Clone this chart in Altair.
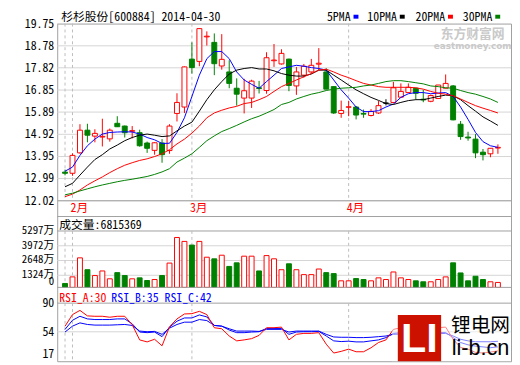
import altair as alt
import pandas as pd

# ------------------------------------------------------------------ data
TITLE = "杉杉股份[600884] 2014-04-30"
VOL_LAST_SHARES = 6815369

jan_days = [30]
feb_days = [7, 10, 11, 12, 13, 14, 17, 18, 19, 20, 21, 24, 25, 26, 27, 28]
mar_days = [3, 4, 5, 6, 7, 10, 11, 12, 13, 14, 17, 18, 19, 20, 21, 24, 25, 26, 27, 28, 31]
apr_days = [1, 2, 3, 4, 8, 9, 10, 11, 14, 15, 16, 17, 18, 21, 22, 23, 24, 25, 28, 29, 30]

opens = [13.27, 13.22, 14.11, 15.10, 14.84, 14.80, 14.72, 15.40, 15.28, 15.05,
         14.99, 14.54, 14.22, 14.54, 14.21, 15.83, 16.11, 18.20, 18.10, 19.17,
         18.93, 17.90, 17.64, 16.93, 16.50, 16.50, 16.95, 16.83, 18.13, 17.99,
         18.20, 17.03, 17.50, 17.64, 17.98, 17.64, 17.00, 15.83, 16.10, 16.11,
         15.83, 15.74, 15.85, 16.28, 16.31, 16.54, 16.74, 16.93, 16.45, 16.36,
         16.48, 16.93, 17.03, 15.36, 14.80, 14.71, 14.14, 14.07, 14.32]
highs = [13.38, 14.09, 15.36, 15.38, 15.14, 15.60, 15.17, 15.71, 15.30, 15.28,
         15.12, 14.60, 14.57, 14.71, 15.36, 16.71, 17.88, 18.93, 19.55, 19.41,
         19.32, 19.29, 18.15, 17.36, 17.34, 17.30, 17.25, 18.50, 18.86, 18.63,
         18.22, 17.86, 17.99, 18.21, 18.68, 17.80, 17.00, 16.39, 16.37, 16.15,
         16.00, 16.02, 16.37, 16.45, 17.21, 17.14, 17.14, 16.95, 16.86, 16.65,
         17.07, 17.53, 17.07, 15.50, 15.03, 14.93, 14.28, 14.31, 14.48]
lows = [13.13, 13.11, 14.07, 14.57, 14.57, 14.39, 14.60, 15.24, 14.78, 14.74,
        14.38, 14.11, 14.03, 13.68, 14.07, 15.48, 15.85, 17.57, 17.89, 18.79,
        17.50, 17.74, 16.93, 16.17, 15.83, 16.07, 16.70, 16.69, 17.86, 17.96,
        16.80, 16.64, 17.39, 17.57, 17.72, 16.88, 15.81, 15.64, 15.71, 15.57,
        15.64, 15.70, 15.81, 16.18, 16.28, 16.54, 16.74, 16.43, 16.32, 16.32,
        16.47, 16.93, 15.53, 14.68, 14.64, 13.88, 13.78, 13.92, 14.07]
closes = [13.22, 14.00, 15.10, 14.88, 14.96, 14.83, 15.10, 15.25, 14.99, 15.08,
          14.42, 14.31, 14.55, 14.03, 15.28, 16.31, 17.86, 17.83, 19.53, 19.20,
          18.00, 18.19, 17.14, 16.67, 16.82, 17.24, 16.92, 18.26, 18.16, 18.45,
          17.05, 17.64, 17.89, 17.93, 18.02, 16.89, 15.85, 15.96, 16.12, 15.76,
          15.80, 15.92, 16.17, 16.28, 16.95, 16.79, 16.97, 16.71, 16.42, 16.61,
          17.07, 17.14, 15.55, 14.82, 14.76, 14.11, 14.03, 14.31, 14.35]

ma5 = [13.31, 13.49, 14.00, 14.42, 14.71, 14.93, 15.00, 15.02, 15.03, 15.02,
       14.93, 14.78, 14.68, 14.52, 14.53, 15.00, 15.64, 16.57, 17.50, 18.22,
       18.53, 18.53, 18.22, 17.64, 17.29, 17.10, 16.93, 17.22, 17.50, 17.79,
       17.86, 17.93, 17.89, 17.83, 17.79, 17.72, 17.29, 16.86, 16.50, 16.11,
       15.91, 15.91, 15.95, 16.11, 16.24, 16.53, 16.69, 16.74, 16.74, 16.69,
       16.72, 16.74, 16.57, 16.11, 15.57, 15.00, 14.60, 14.42, 14.35]
ma10 = [12.63, 12.78, 13.14, 13.49, 13.82, 14.03, 14.28, 14.45, 14.64, 14.78,
        14.88, 14.93, 14.88, 14.82, 14.85, 15.07, 15.28, 15.45, 15.93, 16.43,
        16.86, 17.22, 17.55, 17.72, 17.79, 17.83, 17.77, 17.77, 17.69, 17.57,
        17.50, 17.46, 17.46, 17.55, 17.72, 17.72, 17.50, 17.29, 17.07, 16.86,
        16.69, 16.53, 16.40, 16.26, 16.22, 16.31, 16.39, 16.43, 16.43, 16.50,
        16.57, 16.63, 16.60, 16.43, 16.17, 15.93, 15.68, 15.50, 15.31]
ma20 = [12.20, 12.31, 12.49, 12.71, 12.89, 13.06, 13.25, 13.42, 13.57, 13.68,
        13.78, 13.85, 13.95, 14.07, 14.25, 14.50, 14.71, 14.97, 15.28, 15.64,
        15.85, 15.97, 16.07, 16.14, 16.26, 16.31, 16.43, 16.57, 16.79, 17.00,
        17.14, 17.29, 17.43, 17.57, 17.72, 17.76, 17.64, 17.50, 17.39, 17.26,
        17.14, 17.07, 17.00, 16.97, 16.97, 16.97, 16.97, 16.95, 16.89, 16.79,
        16.71, 16.67, 16.60, 16.46, 16.31, 16.17, 16.06, 15.96, 15.85]
ma30 = [12.28, 12.35, 12.45, 12.54, 12.63, 12.71, 12.78, 12.85, 12.91, 12.96,
        13.02, 13.08, 13.17, 13.28, 13.42, 13.71, 13.88, 14.07, 14.35, 14.64,
        14.85, 15.04, 15.17, 15.31, 15.46, 15.60, 15.71, 15.85, 16.00, 16.22,
        16.31, 16.46, 16.57, 16.67, 16.74, 16.83, 16.89, 16.93, 16.95, 16.97,
        17.03, 17.07, 17.14, 17.22, 17.26, 17.26, 17.22, 17.17, 17.12, 17.03,
        17.00, 16.95, 16.93, 16.83, 16.74, 16.67, 16.57, 16.46, 16.31]

volumes_wan = [591, 1181, 2888, 1824, 1302, 1713, 1007, 1563, 1302, 1007,
               1094, 857, 944, 1302, 2419, 4715, 4362, 4034, 4362, 2946,
               2801, 3125, 2119, 2443, 3038, 3038, 1713, 3091, 2801, 1824,
               2356, 1824, 1384, 1384, 1887, 1563, 1476, 828, 828, 1031,
               944, 828, 1094, 944, 1621, 1094, 944, 828, 741, 741,
               944, 1181, 2443, 1534, 828, 1239, 944, 741, 682]

rsi_a = [61.0, 75.6, 80.9, 74.0, 73.5, 73.5, 72.3, 73.5, 73.5, 63.0,
         43.8, 41.3, 44.6, 36.4, 60.3, 70.2, 76.4, 76.8, 79.7, 75.6,
         59.1, 57.8, 48.7, 42.6, 43.8, 45.4, 49.5, 59.1, 59.1, 59.9,
         43.8, 50.8, 52.0, 52.0, 52.9, 38.4, 27.3, 29.4, 32.2, 28.9,
         28.9, 33.9, 40.5, 43.8, 57.0, 59.1, 59.1, 57.0, 53.7, 57.0,
         59.1, 59.9, 44.6, 34.3, 32.2, 28.1, 27.3, 28.5, 30.0]
rsi_b = [57.0, 68.5, 73.5, 70.2, 69.4, 69.4, 69.4, 70.2, 70.2, 64.0,
         53.7, 52.9, 53.7, 47.9, 59.9, 67.3, 71.4, 71.4, 75.2, 72.7,
         62.0, 61.1, 56.2, 52.9, 52.9, 53.7, 54.1, 58.2, 58.2, 58.2,
         50.8, 53.7, 54.1, 54.1, 54.5, 48.7, 42.6, 41.7, 42.2, 41.3,
         41.3, 42.6, 43.8, 46.7, 52.0, 52.9, 52.9, 52.0, 50.8, 52.0,
         52.9, 52.9, 46.7, 40.5, 37.6, 36.0, 35.0, 34.0, 35.0]
rsi_c = [53.7, 61.1, 65.2, 63.2, 62.4, 62.4, 62.4, 62.8, 63.2, 62.0,
         54.9, 54.1, 54.5, 50.8, 58.6, 63.2, 66.1, 66.1, 69.4, 68.1,
         62.0, 61.1, 57.8, 54.9, 54.9, 54.9, 54.5, 57.0, 57.0, 57.0,
         53.7, 54.9, 54.9, 54.9, 54.9, 50.8, 47.5, 47.1, 47.1, 46.7,
         46.7, 47.1, 47.9, 48.7, 50.8, 51.2, 51.6, 51.2, 50.8, 51.2,
         51.6, 52.0, 48.7, 44.6, 42.6, 41.5, 41.5, 41.5, 42.0]

price_ticks = [19.75, 18.78, 17.82, 16.85, 15.89, 14.92, 13.95, 12.99, 12.02]
vol_ticks = [5297, 3972, 2648, 1324]
rsi_ticks = [90, 54, 17]
ma_names = ["5PMA", "10PMA", "20PMA", "30PMA"]

# ------------------------------------------------------------------ tables
dates = ([f"2014-01-{d:02d}" for d in jan_days] + [f"2014-02-{d:02d}" for d in feb_days]
         + [f"2014-03-{d:02d}" for d in mar_days] + [f"2014-04-{d:02d}" for d in apr_days])
n = len(dates)
df = pd.DataFrame({
    "i": list(range(n)), "date": dates,
    "open": opens, "high": highs, "low": lows, "close": closes,
    "ma5": ma5, "ma10": ma10, "ma20": ma20, "ma30": ma30,
    "vol": volumes_wan, "rsi_a": rsi_a, "rsi_b": rsi_b, "rsi_c": rsi_c,
})
df["dir"] = ["up" if c > o else ("down" if c < o else "flat") for o, c in zip(opens, closes)]
df["vdir"] = ["up" if c >= o else "down" for o, c in zip(opens, closes)]

month_idx = [k for k in range(n) if k == 0 or dates[k][5:7] != dates[k - 1][5:7]]
months_df = pd.DataFrame({"i": month_idx, "m": [int(dates[k][5:7]) for k in month_idx]})
mlabel_df = months_df[months_df["m"] != 1].copy()
mlabel_df["lab"] = mlabel_df["m"].astype(str) + "月"

# ------------------------------------------------------------------ layout / style
W, H = 461, 343
RED, GREEN, BLUE, BLACK = "#ff0000", "#008000", "#0000ff", "#000000"
GRID, FRAME, DASH = "#d4d4d4", "#a0a0a0", "#bdbdbd"
FONT = "Noto Sans Mono CJK SC, Noto Sans CJK SC, sans-serif"
FS = 12

STEP = 7.75
XS = alt.Scale(domain=[-3 / STEP, (W - 3) / STEP], nice=False, zero=False)
xenc = alt.X("i:Q", scale=XS, axis=None)

# price panel: 19.75 at y=0, 12.02 at y=180
p_slope = (price_ticks[0] - price_ticks[-1]) / 180.0
PS = alt.Scale(domain=[price_ticks[0] - H * p_slope, price_ticks[0]], nice=False, zero=False)
# volume panel: 5297 at y=210.7, 0 at y=270.7, panel floor at y=268
v_slope = vol_ticks[0] / 60.0
VS = alt.Scale(domain=[-(H - 270.7) * v_slope, 270.7 * v_slope], nice=False, zero=False)
VOL_FLOOR = (270.7 - 268) * v_slope
# RSI panel: 90 at y=284, 17 at y=343
r_slope = (rsi_ticks[0] - rsi_ticks[-1]) / 59.0
RS = alt.Scale(domain=[rsi_ticks[-1] - (H - 343) * r_slope, rsi_ticks[-1] + 343 * r_slope], nice=False, zero=False)

DIRS = ["up", "down", "flat"]
STROKE = alt.Scale(domain=DIRS, range=[RED, GREEN, BLACK])
FILL = alt.Scale(domain=DIRS, range=["#ffffff", GREEN, BLACK])


def Y(f, s):
    return alt.Y(f, scale=s, axis=None)


def txt(**kw):
    base = dict(font=FONT, fontSize=FS, baseline="middle", align="left", color=BLACK)
    base.update(kw)
    return base


one = pd.DataFrame({"k": [0]})

# ------------------------------------------------------------------ price panel
ptick_df = pd.DataFrame({"v": price_ticks, "lab": [f"{v:.2f}" for v in price_ticks]})
p_grid = alt.Chart(ptick_df).mark_rule(color=GRID, strokeWidth=1).encode(y=Y("v:Q", PS))
p_axis = alt.Chart(ptick_df.tail(1)).mark_rule(color=FRAME, strokeWidth=1).encode(y=Y("v:Q", PS))
p_month = alt.Chart(months_df).mark_rule(color=DASH, strokeDash=[3, 3]).encode(
    x=xenc, y=alt.YDatum(price_ticks[0], scale=PS, axis=None), y2=alt.Y2Datum(price_ticks[-1]))
p_wick = alt.Chart(df).mark_rule(strokeWidth=1).encode(
    x=xenc, y=Y("low:Q", PS), y2="high:Q", stroke=alt.Stroke("dir:N", scale=STROKE, legend=None))
p_body = alt.Chart(df).mark_bar(size=5, strokeWidth=1).encode(
    x=xenc, y=Y("open:Q", PS), y2="close:Q",
    fill=alt.Fill("dir:N", scale=FILL, legend=None),
    stroke=alt.Stroke("dir:N", scale=STROKE, legend=None))
ma_cols = [("ma5", BLUE), ("ma10", BLACK), ("ma20", RED), ("ma30", GREEN)]
p_ma = [alt.Chart(df).mark_line(color=c, strokeWidth=1).encode(x=xenc, y=Y(f"{f}:Q", PS)) for f, c in ma_cols]
p_lab = alt.Chart(ptick_df).mark_text(**txt(align="right")).encode(x=alt.value(-3), y=Y("v:Q", PS), text="lab:N")
p_mlab = alt.Chart(mlabel_df).mark_text(**txt(color=RED, dx=-2)).encode(x=xenc, y=alt.value(187), text="lab:N")
price = alt.layer(p_grid, p_axis, p_month, p_wick, p_body, *p_ma, p_lab, p_mlab)

# ------------------------------------------------------------------ volume panel
vtick_df = pd.DataFrame({"v": vol_ticks, "lab": [f"{v}万" for v in vol_ticks]})
v_grid = alt.Chart(vtick_df.iloc[1:]).mark_rule(color=GRID).encode(y=Y("v:Q", VS))
v_top = alt.Chart(vtick_df.head(1)).mark_rule(color=FRAME).encode(y=Y("v:Q", VS))
v_month = alt.Chart(months_df).mark_rule(color=DASH, strokeDash=[3, 3]).encode(
    x=xenc, y=alt.YDatum(vol_ticks[0], scale=VS, axis=None), y2=alt.Y2Datum(VOL_FLOOR))
v_bar = alt.Chart(df).mark_bar(size=5, strokeWidth=1).encode(
    x=xenc, y=Y("vol:Q", VS), y2=alt.Y2Datum(VOL_FLOOR),
    fill=alt.Fill("vdir:N", scale=FILL, legend=None),
    stroke=alt.Stroke("vdir:N", scale=STROKE, legend=None))
v_lab = alt.Chart(vtick_df).mark_text(**txt(align="right", fontSize=11)).encode(
    x=alt.value(-3), y=Y("v:Q", VS), text="lab:N")
v_zero = alt.Chart(pd.DataFrame({"v": [VOL_FLOOR], "lab": ["0"]})).mark_text(
    **txt(align="right", baseline="bottom", fontSize=11)).encode(x=alt.value(-3), y=Y("v:Q", VS), text="lab:N")
v_head = alt.Chart(pd.DataFrame({"t": [f"成交量:{VOL_LAST_SHARES}"]})).mark_text(**txt()).encode(
    x=alt.value(2), y=alt.value(205), text="t:N")
volume = alt.layer(v_grid, v_top, v_month, v_bar, v_lab, v_zero, v_head)

# ------------------------------------------------------------------ RSI panel
rtick_df = pd.DataFrame({"v": rsi_ticks, "lab": [str(v) for v in rsi_ticks]})
r_grid = alt.Chart(rtick_df.iloc[1:2]).mark_rule(color=GRID).encode(y=Y("v:Q", RS))
r_top = alt.Chart(rtick_df.head(1)).mark_rule(color=FRAME).encode(y=Y("v:Q", RS))
r_month = alt.Chart(months_df).mark_rule(color=DASH, strokeDash=[3, 3]).encode(
    x=xenc, y=alt.YDatum(rsi_ticks[0], scale=RS, axis=None), y2=alt.Y2Datum(rsi_ticks[-1]))
r_lines = [alt.Chart(df).mark_line(color=c, strokeWidth=1).encode(x=xenc, y=Y(f"{f}:Q", RS))
           for f, c in [("rsi_c", BLUE), ("rsi_b", BLUE), ("rsi_a", RED)]]
r_lab = alt.Chart(rtick_df.iloc[:2]).mark_text(**txt(align="right")).encode(x=alt.value(-3), y=Y("v:Q", RS), text="lab:N")
r_lab17 = alt.Chart(rtick_df.iloc[2:]).mark_text(**txt(align="right", baseline="bottom")).encode(
    x=alt.value(-3), y=Y("v:Q", RS), text="lab:N")
r_heads = []
for xpos, name, arr, col in [(2, "RSI_A", rsi_a, RED), (55, "RSI_B", rsi_b, BLUE), (109, "RSI_C", rsi_c, BLUE)]:
    r_heads.append(alt.Chart(pd.DataFrame({"t": [f"{name}:{arr[-1]:.0f}"]})).mark_text(**txt(color=col)).encode(
        x=alt.value(xpos), y=alt.value(279), text="t:N"))
rsi = alt.layer(r_grid, r_top, r_month, *r_lines, r_lab, r_lab17, *r_heads)

# ------------------------------------------------------------------ decorations
deco = []
deco.append(alt.Chart(one).mark_rule(color=FRAME).encode(y=alt.value(196)))
deco.append(alt.Chart(one).mark_rule(color=FRAME).encode(y=alt.value(268)))
deco.append(alt.Chart(pd.DataFrame({"t": [TITLE]})).mark_text(**txt()).encode(
    x=alt.value(4), y=alt.value(-7), text="t:N"))
leg_right = [298, 345, 394, 442]
for name, (f, c), r in zip(ma_names, ma_cols, leg_right):
    deco.append(alt.Chart(pd.DataFrame({"t": [name]})).mark_text(**txt(align="right")).encode(
        x=alt.value(r), y=alt.value(-7), text="t:N"))
    deco.append(alt.Chart(one).mark_rect(color=c).encode(
        x=alt.value(r + 3), x2=alt.value(r + 8), y=alt.value(-9), y2=alt.value(-5)))
# watermarks
deco.append(alt.Chart(pd.DataFrame({"t": ["东方财富网"]})).mark_text(
    **txt(font="Noto Sans CJK SC", fontSize=13, fontWeight="bold", color="#c9c9c9", align="center")).encode(
    x=alt.value(422), y=alt.value(11), text="t:N"))
deco.append(alt.Chart(pd.DataFrame({"t": ["eastmoney.com"]})).mark_text(
    **txt(font="DejaVu Sans", fontSize=9, fontWeight="bold", color="#c9c9c9", align="center")).encode(
    x=alt.value(422), y=alt.value(23), text="t:N"))
deco.append(alt.Chart(one).mark_rect(color="#ffffff", opacity=0.5).encode(
    x=alt.value(340), x2=alt.value(W), y=alt.value(292), y2=alt.value(H)))
deco.append(alt.Chart(one).mark_rect(color="#cc1100").encode(
    x=alt.value(346), x2=alt.value(390), y=alt.value(296), y2=alt.value(H)))
deco.append(alt.Chart(pd.DataFrame({"t": ["LI"]})).mark_text(
    **txt(font="Liberation Sans", fontSize=42, fontWeight="bold", color="#ffffff", align="center")).encode(
    x=alt.value(368), y=alt.value(321), text="t:N"))
deco.append(alt.Chart(pd.DataFrame({"t": ["锂电网"]})).mark_text(
    **txt(font="Noto Sans CJK SC", fontSize=20, align="center")).encode(
    x=alt.value(430), y=alt.value(307), text="t:N"))
deco.append(alt.Chart(pd.DataFrame({"t": ["li-b.cn"]})).mark_text(
    **txt(font="Liberation Sans", fontSize=22, align="center")).encode(
    x=alt.value(430), y=alt.value(330), text="t:N"))

chart = alt.layer(price, volume, rsi, *deco).resolve_scale(y="independent").properties(
    width=W, height=H,
    padding={"left": 50, "top": 13, "right": 1, "bottom": 1},
    autosize=alt.AutoSizeParams(type="none"),
).configure_view(stroke=FRAME, strokeWidth=1)

chart.save("out.html", embed_options={"renderer": "svg", "actions": False})
